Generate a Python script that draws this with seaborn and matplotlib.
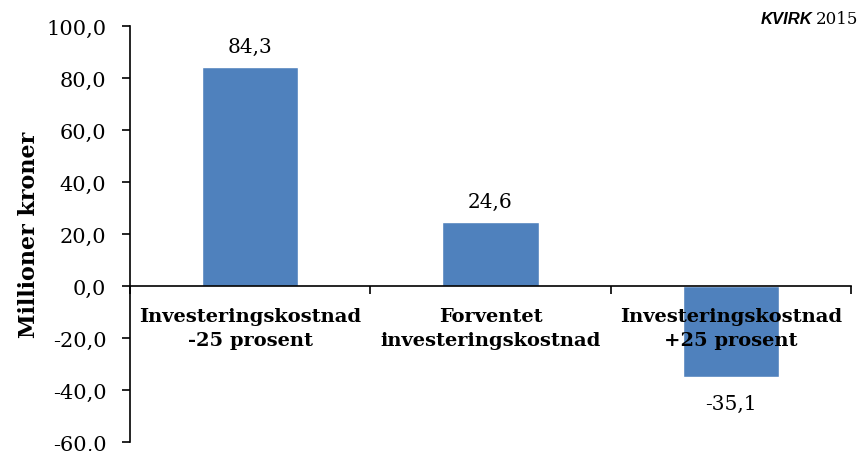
import matplotlib
matplotlib.use("Agg")
import matplotlib.pyplot as plt
import seaborn as sns
import pandas as pd
from matplotlib.ticker import FixedLocator, FuncFormatter

categories = ["Investeringskostnad\n-25 prosent",
              "Forventet\ninvesteringskostnad",
              "Investeringskostnad\n+25 prosent"]
values = [84.3, 24.6, -35.1]
y_ticks = [-60, -40, -20, 0, 20, 40, 60, 80, 100]

sns.set_theme(style="white")
plt.rcParams["font.family"] = ["DejaVu Serif"]
plt.rcParams["text.color"] = "black"
plt.rcParams["axes.labelcolor"] = "black"
plt.rcParams["xtick.color"] = "black"
plt.rcParams["ytick.color"] = "black"

df = pd.DataFrame({"kategori": categories, "verdi": values})

fig = plt.figure(figsize=(8.61, 4.52), dpi=100)
ax = fig.add_axes([130 / 861, 1 - 443 / 452, (851 - 130) / 861, (443 - 27) / 452])

sns.barplot(data=df, x="kategori", y="verdi", order=categories,
            color="#4F81BD", saturation=1, width=0.4, ax=ax, zorder=1)
ax.set_axisbelow(False)

# Spines first: moving the bottom spine resets the x ticks
ax.spines["bottom"].set_position(("data", 0))
for s in ["top", "right"]:
    ax.spines[s].set_visible(False)
for s in ["left", "bottom"]:
    ax.spines[s].set_color("black")
    ax.spines[s].set_linewidth(1.2)
    ax.spines[s].set_zorder(3)

ax.set_xlim(-0.5, 2.5)
ax.set_ylim(-60, 100)
ax.set_yticks(y_ticks)
ax.yaxis.set_major_formatter(FuncFormatter(lambda v, p: f"{v:.1f}".replace(".", ",")))
ax.tick_params(axis="y", labelsize=15, length=6, width=1.2, direction="out",
               left=True, color="black", labelcolor="black", pad=11)

# Boundary ticks between groups, category labels centred under each bar
ax.xaxis.set_minor_locator(FixedLocator([-0.5, 0.5, 1.5, 2.5]))
ax.tick_params(axis="x", which="minor", length=6, width=1.2, direction="out",
               bottom=True, color="black")
ax.tick_params(axis="x", which="major", length=0, pad=15, labelsize=14)
ax.set_xticks(range(len(categories)))
ax.set_xticklabels(categories, fontweight="bold", fontsize=14, color="black",
                   linespacing=1.45)

ax.set_xlabel("")
ax.set_ylabel("Millioner kroner", fontsize=16, fontweight="bold", color="black")
ax.yaxis.set_label_coords(-0.125, 0.5)

for i, v in enumerate(values):
    txt = f"{v:.1f}".replace(".", ",")
    off = 8 if v >= 0 else -12
    ax.annotate(txt, (i, v), xytext=(0, off), textcoords="offset points",
                ha="center", va="bottom" if v >= 0 else "top", fontsize=14.5,
                color="black")

fig.text(0.944, 0.957, "KVIRK", ha="right", va="center", fontsize=12,
         fontweight="bold", style="italic", family=["Liberation Sans"], color="black")
fig.text(0.948, 0.957, "2015", ha="left", va="center", fontsize=12, color="black")

fig.savefig("out.png", dpi=100)
